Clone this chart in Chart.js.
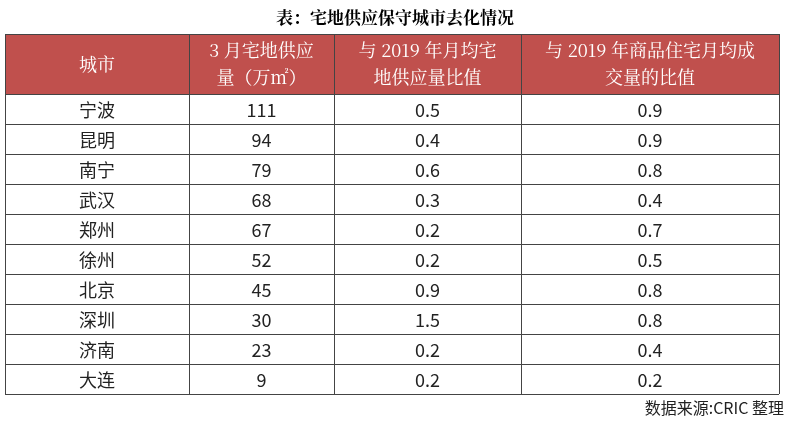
<!DOCTYPE html>
<html><head><meta charset="utf-8">
<script src="https://cdn.jsdelivr.net/npm/chart.js@4"></script>
<style>body{margin:0;background:#fff}#wrap{width:791px;height:423px}</style>
</head><body><div id="wrap"><canvas id="c"></canvas></div>
<script>
const cities = ['宁波', '昆明', '南宁', '武汉', '郑州', '徐州', '北京', '深圳', '济南', '大连'];
const supply = [111, 94, 79, 68, 67, 52, 45, 30, 23, 9];
const supplyRatio = [0.5, 0.4, 0.6, 0.3, 0.2, 0.2, 0.9, 1.5, 0.2, 0.2];
const salesRatio = [0.9, 0.9, 0.8, 0.4, 0.7, 0.5, 0.8, 0.8, 0.4, 0.2];
const headers = [['城市'], ['3 月宅地供应', '量（万㎡）'], ['与 2019 年月均宅', '地供应量比值'], ['与 2019 年商品住宅月均成', '交量的比值']];
const colEdges = [0, 184, 329, 516, 774];

const tablePlugin = {
  id: 'table',
  afterDraw(chart) {
    const ctx = chart.ctx, x = chart.scales.x, y = chart.scales.y;
    const L = x.getPixelForValue(0), R = x.getPixelForValue(774);
    const top = y.getPixelForValue(0), hb = y.getPixelForValue(2);
    ctx.save();
    ctx.fillStyle = '#c0504d';
    ctx.fillRect(L, top, R - L, hb - top);
    ctx.textAlign = 'center'; ctx.textBaseline = 'middle';
    ctx.fillStyle = '#000';
    ctx.font = 'bold 17px "Noto Serif CJK SC", "Noto Sans CJK SC"';
    ctx.fillText('表：宅地供应保守城市去化情况', 395, 18);
    ctx.font = '18px "Noto Serif CJK SC", "Noto Sans CJK SC"';
    ctx.fillStyle = '#fff';
    headers.forEach((h, i) => {
      const cx = (x.getPixelForValue(colEdges[i]) + x.getPixelForValue(colEdges[i + 1])) / 2;
      const cy = (top + hb) / 2;
      h.forEach((t, j) => ctx.fillText(t, cx, cy + (j - (h.length - 1) / 2) * 27));
    });
    ctx.fillStyle = '#222';
    ctx.font = '18px "Noto Sans CJK SC"';
    const cols = [cities, supply, supplyRatio.map(v => v.toFixed(1)), salesRatio.map(v => v.toFixed(1))];
    cities.forEach((c, r) => {
      const cy = y.getPixelForValue(2.5 + r) + 1;
      cols.forEach((col, i) => {
        const cx = (x.getPixelForValue(colEdges[i]) + x.getPixelForValue(colEdges[i + 1])) / 2;
        ctx.fillText(String(col[r]), cx, cy);
      });
    });
    ctx.strokeStyle = '#444'; ctx.lineWidth = 1;
    ctx.beginPath();
    for (let r = 0; r <= 12; r++) {
      if (r === 1) continue;
      const py = Math.round(y.getPixelForValue(r)) + 0.5;
      ctx.moveTo(L, py); ctx.lineTo(R, py);
    }
    colEdges.forEach(e => {
      const px = Math.round(x.getPixelForValue(e)) + 0.5;
      ctx.moveTo(px, top); ctx.lineTo(px, y.getPixelForValue(12));
    });
    ctx.stroke();
    ctx.fillStyle = '#222';
    ctx.textAlign = 'right';
    ctx.font = '16px "Noto Sans CJK SC"';
    ctx.fillText('数据来源:CRIC 整理', 784, 408);
    ctx.restore();
  }
};

new Chart(document.getElementById('c'), {
  type: 'scatter',
  data: { datasets: [{ data: supply.map((v, i) => ({ x: 0, y: 2.5 + i })), pointRadius: 0 }] },
  options: {
    responsive: true, maintainAspectRatio: false, animation: false,
    layout: { padding: { left: 5, right: 12, top: 34, bottom: 29 } },
    plugins: { legend: { display: false }, tooltip: { enabled: false } },
    scales: {
      x: { type: 'linear', min: 0, max: 774, display: false },
      y: { type: 'linear', min: 0, max: 12, reverse: true, display: false }
    }
  },
  plugins: [tablePlugin]
});
</script></body></html>
